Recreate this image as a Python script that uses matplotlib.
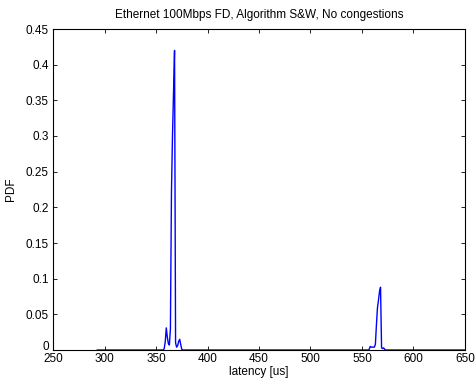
import matplotlib
matplotlib.use("Agg")
import matplotlib.pyplot as plt

# latency samples [us] and PDF values
latency = [293, 356, 357, 358, 359, 360, 361, 362, 363, 364, 365, 366, 367,
           368, 369, 370, 371, 372, 373, 374, 375, 376,
           555, 556, 557, 558, 559, 560, 561, 562, 563, 564, 565, 566, 567,
           568, 569, 570, 571, 572, 573, 650]
pdf = [0.0, 0.0, 0.0, 0.002, 0.012, 0.031, 0.018, 0.009, 0.007, 0.03, 0.22, 0.3, 0.36,
       0.42, 0.01, 0.004, 0.006, 0.012, 0.015, 0.008, 0.001, 0.0,
       0.0, 0.0, 0.001, 0.005, 0.004, 0.004, 0.004, 0.004, 0.008, 0.035, 0.059, 0.07, 0.082,
       0.088, 0.003, 0.002, 0.003, 0.001, 0.0, 0.0]

xticks = [250, 300, 350, 400, 450, 500, 550, 600, 650]
yticks = [0, 0.05, 0.1, 0.15, 0.2, 0.25, 0.3, 0.35, 0.4, 0.45]
ytick_labels = ["0", "0.05", "0.1", "0.15", "0.2", "0.25", "0.3", "0.35", "0.4", "0.45"]

plt.rcParams["font.family"] = ["Liberation Sans", "DejaVu Sans"]
plt.rcParams["font.size"] = 8.5

fig = plt.figure(figsize=(4.77, 3.84), dpi=100)
ax = fig.add_axes([53 / 477, 34 / 384, 412 / 477, 321 / 384])

ax.plot(latency, pdf, color="#0000ff", linewidth=1.0)

ax.set_xlim(250, 650)
ax.set_ylim(0, 0.45)
ax.set_xticks(xticks)
ax.set_yticks(yticks)
ax.set_xticklabels([str(v) for v in xticks])
ax.set_yticklabels(ytick_labels)
ax.tick_params(direction="in", length=3, width=0.6, top=True, right=True)
ax.tick_params(axis="x", pad=2)
ax.tick_params(axis="y", pad=3)
# MATLAB lifts the zero label above the x tick labels
ax.get_yticklabels()[0].set_va("baseline")
for s in ax.spines.values():
    s.set_linewidth(0.8)

ax.set_title("Ethernet 100Mbps FD, Algorithm S&W, No congestions", fontsize=8.5, pad=8)
ax.set_xlabel("latency [us]", labelpad=1)
ax.set_ylabel("PDF", labelpad=6)

fig.savefig("out.png", dpi=100)
